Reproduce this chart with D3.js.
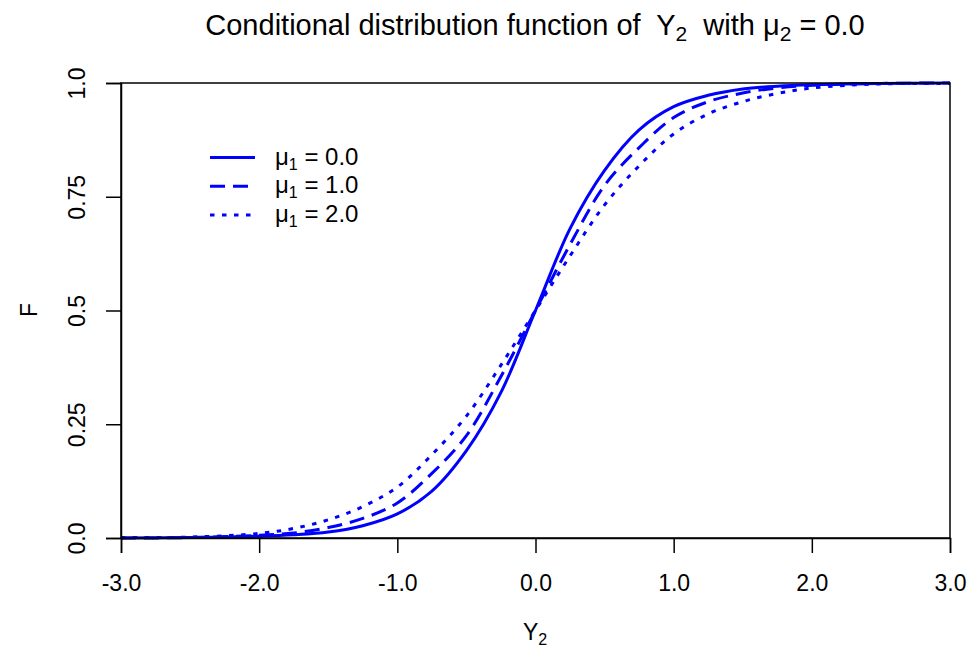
<!DOCTYPE html>
<html>
<head>
<meta charset="utf-8">
<script src="https://cdn.jsdelivr.net/npm/d3@7"></script>
<style>
  body { margin: 0; background: #fff; }
  text { font-family: "Liberation Sans", Arial, sans-serif; fill: #000; white-space: pre; }
</style>
</head>
<body>
<svg width="969" height="647"></svg>
<script>
const xValues = [-3, -2.5, -2, -1.75, -1.5, -1.25, -1, -0.75, -0.5, -0.25, 0, 0.25, 0.5, 0.75, 1, 1.25, 1.5, 1.75, 2, 2.5, 3];
const fMu0 = [0.000, 0.001, 0.004, 0.007, 0.013, 0.027, 0.053, 0.103, 0.192, 0.320, 0.5, 0.680, 0.808, 0.897, 0.948, 0.973, 0.987, 0.993, 0.996, 0.999, 1.000];
const fMu1 = [0.000, 0.001, 0.006, 0.011, 0.023, 0.043, 0.077, 0.142, 0.225, 0.355, 0.5, 0.645, 0.775, 0.858, 0.924, 0.959, 0.978, 0.989, 0.995, 0.999, 1.000];
const fMu2 = [0.001, 0.002, 0.010, 0.021, 0.040, 0.069, 0.112, 0.183, 0.268, 0.380, 0.5, 0.620, 0.732, 0.818, 0.888, 0.932, 0.959, 0.977, 0.989, 0.998, 0.999];
const seriesNames = ['0.0', '1.0', '2.0'];
const xTicks = [-3, -2, -1, 0, 1, 2, 3];
const yTicks = [0, 0.25, 0.5, 0.75, 1];
const yTickLabels = ['0.0', '0.25', '0.5', '0.75', '1.0'];

const svg = d3.select('svg');
const plotLeft = 121, plotRight = 950, plotTop = 83, plotBottom = 538;
const blue = '#0000ff';
const dashes = [null, '15,8', '4.5,7.5'];

const x = d3.scaleLinear().domain([-3, 3]).range([plotLeft, plotRight]);
const y = d3.scaleLinear().domain([0, 1]).range([plotBottom, plotTop]);

// curves
const line = d3.line()
  .x(d => x(d[0]))
  .y(d => y(d[1]))
  .curve(d3.curveCatmullRom.alpha(0.5));

[fMu0, fMu1, fMu2].forEach((vals, i) => {
  svg.append('path')
    .datum(xValues.map((v, j) => [v, vals[j]]))
    .attr('d', line)
    .attr('fill', 'none')
    .attr('stroke', blue)
    .attr('stroke-width', 3)
    .attr('stroke-dasharray', dashes[i]);
});

// box
svg.append('rect')
  .attr('x', plotLeft).attr('y', plotTop)
  .attr('width', plotRight - plotLeft).attr('height', plotBottom - plotTop)
  .attr('fill', 'none').attr('stroke', '#000').attr('stroke-width', 1.5);

// x axis
const xAxis = svg.append('g')
  .attr('transform', `translate(0,${plotBottom})`)
  .call(d3.axisBottom(x).tickValues(xTicks).tickSize(15)
    .tickFormat(d => d.toFixed(1)));
xAxis.select('.domain').attr('stroke-width', 1.5);
xAxis.selectAll('line').attr('stroke-width', 1.5);
xAxis.selectAll('text')
  .attr('font-size', 23)
  .attr('y', 53).attr('dy', 0);

// y axis
const yAxis = svg.append('g')
  .attr('transform', `translate(${plotLeft},0)`)
  .call(d3.axisLeft(y).tickValues(yTicks).tickSize(15)
    .tickFormat((d, i) => yTickLabels[i]));
yAxis.select('.domain').attr('stroke-width', 1.5);
yAxis.selectAll('line').attr('stroke-width', 1.5);
yAxis.selectAll('text')
  .attr('font-size', 23)
  .attr('x', 0).attr('y', 0).attr('dy', 0)
  .attr('text-anchor', 'middle')
  .attr('transform', 'translate(-36,0) rotate(-90)');

// title
const title = svg.append('text')
  .attr('x', 535).attr('y', 35)
  .attr('text-anchor', 'middle')
  .attr('font-size', 29);
title.append('tspan').text('Conditional distribution function of  Y');
title.append('tspan').attr('font-size', 21).attr('dy', 6).text('2');
title.append('tspan').attr('dy', -6).text('  with μ');
title.append('tspan').attr('font-size', 21).attr('dy', 6).text('2');
title.append('tspan').attr('dy', -6).text(' = 0.0');

// axis labels
const xl = svg.append('text')
  .attr('x', 535).attr('y', 640)
  .attr('text-anchor', 'middle')
  .attr('font-size', 23);
xl.append('tspan').text('Y');
xl.append('tspan').attr('font-size', 16).attr('dy', 5).text('2');

svg.append('text')
  .attr('transform', 'translate(37,310) rotate(-90)')
  .attr('text-anchor', 'middle')
  .attr('font-size', 23)
  .text('F');

// legend
const legend = svg.append('g');
seriesNames.forEach((name, i) => {
  const ly = 157.5 + i * 28.7;
  legend.append('line')
    .attr('x1', 210).attr('x2', 255)
    .attr('y1', ly).attr('y2', ly)
    .attr('stroke', blue).attr('stroke-width', 3)
    .attr('stroke-dasharray', dashes[i]);
  const t = legend.append('text')
    .attr('x', 275).attr('y', ly + 7)
    .attr('font-size', 24);
  t.append('tspan').text('μ');
  t.append('tspan').attr('font-size', 16).attr('dy', 5).text('1');
  t.append('tspan').attr('dy', -5).text(' = ' + name);
});
</script>
</body>
</html>
